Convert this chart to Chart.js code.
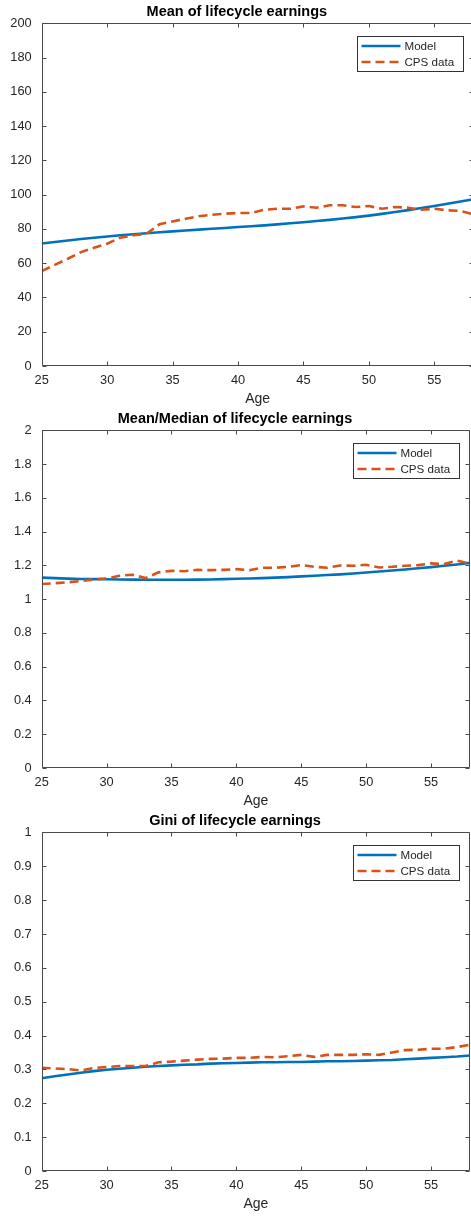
<!DOCTYPE html>
<html>
<head>
<meta charset="utf-8">
<script src="https://cdn.jsdelivr.net/npm/chart.js@4.4.0/dist/chart.umd.min.js"></script>
<style>
  html, body { margin: 0; padding: 0; background: #fff; overflow: hidden; }
  body { width: 471px; height: 1216px; position: relative; }
  canvas { position: absolute; left: 0; }
</style>
</head>
<body>
<canvas id="meanChart" width="475" height="408" style="top:0px"></canvas>
<canvas id="ratioChart" width="471" height="403" style="top:407px"></canvas>
<canvas id="giniChart" width="471" height="404" style="top:809px"></canvas>
<script>
// ages on the x axis
var ages = [25, 26, 27, 28, 29, 30, 31, 32, 33, 34, 35, 36, 37, 38, 39, 40, 41,
            42, 43, 44, 45, 46, 47, 48, 49, 50, 51, 52, 53, 54, 55, 56, 57, 58];
var ageTicks = [25, 30, 35, 40, 45, 50, 55];

// mean of lifecycle earnings
var meanModel = [71.5, 72.4, 73.3, 74.1, 74.9, 75.6, 76.3, 76.9, 77.5, 78.1, 78.6, 79.1,
                 79.6, 80.1, 80.6, 81.1, 81.6, 82.1, 82.7, 83.3, 83.9, 84.6, 85.3, 86.1,
                 86.9, 87.8, 88.8, 89.9, 91.0, 92.2, 93.4, 94.7, 96.0, 97.4];
var meanCPS = [55.4, 59.0, 62.6, 66.5, 69.0, 71.4, 74.9, 76.3, 77.2, 82.7, 84.4, 86.0,
               87.4, 88.3, 88.9, 89.3, 89.3, 91.2, 91.8, 91.8, 93.2, 92.4, 93.8, 93.8,
               92.8, 93.4, 91.8, 92.8, 92.4, 91.2, 91.8, 90.9, 90.5, 88.5];

// mean / median
var ratioModel = [1.128, 1.125, 1.122, 1.120, 1.119, 1.118, 1.117, 1.116, 1.115, 1.115,
                  1.115, 1.115, 1.116, 1.117, 1.119, 1.121, 1.123, 1.125, 1.128, 1.131,
                  1.135, 1.139, 1.143, 1.147, 1.152, 1.158, 1.164, 1.170, 1.176, 1.183,
                  1.190, 1.198, 1.206, 1.215];
var ratioCPS = [1.090, 1.095, 1.100, 1.107, 1.117, 1.123, 1.139, 1.145, 1.125, 1.159,
                1.168, 1.166, 1.174, 1.172, 1.174, 1.178, 1.172, 1.186, 1.186, 1.192,
                1.202, 1.192, 1.186, 1.200, 1.198, 1.204, 1.188, 1.192, 1.198, 1.202,
                1.212, 1.208, 1.228, 1.212];

// gini
var giniModel = [0.274, 0.280, 0.285, 0.290, 0.295, 0.299, 0.302, 0.305, 0.308, 0.310,
                 0.312, 0.314, 0.315, 0.317, 0.318, 0.319, 0.320, 0.321, 0.321, 0.322,
                 0.322, 0.323, 0.324, 0.324, 0.325, 0.326, 0.327, 0.328, 0.330, 0.332,
                 0.334, 0.336, 0.338, 0.341];
var giniCPS = [0.305, 0.303, 0.301, 0.297, 0.304, 0.307, 0.310, 0.310, 0.310, 0.321,
               0.323, 0.326, 0.329, 0.331, 0.332, 0.334, 0.334, 0.337, 0.336, 0.339,
               0.343, 0.337, 0.343, 0.343, 0.343, 0.345, 0.343, 0.350, 0.357, 0.358,
               0.361, 0.361, 0.366, 0.373];

var FONT = "'Liberation Sans', Arial, Helvetica, sans-serif";
var TEXT = '#262626';
var BLUE = '#0072BD';
var ORANGE = '#D95319';
var DASH = [9, 5];

function pts(ys) {
    return ages.map(function (a, i) { return { x: a, y: ys[i] }; });
}

// matlab-like box with inward ticks + legend inside top right
var frame = {
    id: 'frame',
    afterDatasetsDraw: function (chart) {
        var ctx = chart.ctx, a = chart.chartArea;
        var x = chart.scales.x, y = chart.scales.y;
        var L = Math.round(a.left) + 0.5, R = Math.round(a.right) - 0.5;
        var T = Math.round(a.top) + 0.5, B = Math.round(a.bottom) - 0.5;
        ctx.save();
        ctx.strokeStyle = '#4a4a4a';
        ctx.lineWidth = 1;
        ctx.beginPath();
        ctx.rect(L, T, R - L, B - T);
        x.ticks.forEach(function (t) {
            var px = Math.round(x.getPixelForValue(t.value)) + 0.5;
            ctx.moveTo(px, B); ctx.lineTo(px, B - 4);
            ctx.moveTo(px, T); ctx.lineTo(px, T + 4);
        });
        y.ticks.forEach(function (t) {
            var py = Math.round(y.getPixelForValue(t.value)) + 0.5;
            ctx.moveTo(L, py); ctx.lineTo(L + 4, py);
            ctx.moveTo(R, py); ctx.lineTo(R - 4, py);
        });
        ctx.stroke();

        // legend
        var w = 106, h = 35;
        var bx = Math.round(a.right - 11 - w) + 0.5, by = Math.round(a.top + 13) + 0.5;
        ctx.fillStyle = '#fff';
        ctx.fillRect(bx, by, w, h);
        ctx.strokeStyle = '#333';
        ctx.strokeRect(bx, by, w, h);
        ctx.font = '11.6px ' + FONT;
        ctx.textBaseline = 'middle';
        ctx.textAlign = 'left';
        chart.data.datasets.forEach(function (ds, i) {
            var ly = by + 9.5 + i * 16;
            ctx.beginPath();
            ctx.strokeStyle = ds.borderColor;
            ctx.lineWidth = ds.borderWidth;
            ctx.setLineDash(ds.borderDash || []);
            ctx.moveTo(bx + 4, ly);
            ctx.lineTo(bx + 43, ly);
            ctx.stroke();
            ctx.setLineDash([]);
            ctx.fillStyle = TEXT;
            ctx.fillText(ds.label, bx + 47, ly + 0.5);
        });
        ctx.restore();
    }
};

function makeChart(id, title, model, cps, ymax, ystep, rightPad) {
    var ctx = document.getElementById(id).getContext('2d');
    return new Chart(ctx, {
        type: 'line',
        data: {
            datasets: [{
                label: 'Model',
                data: pts(model),
                borderColor: BLUE,
                borderWidth: 2.6,
                pointRadius: 0,
                fill: false,
                order: 1
            }, {
                label: 'CPS data',
                data: pts(cps),
                borderColor: ORANGE,
                borderWidth: 2.6,
                borderDash: DASH,
                pointRadius: 0,
                fill: false,
                order: 0
            }]
        },
        options: {
            responsive: false,
            animation: false,
            devicePixelRatio: 1,
            layout: { autoPadding: false, padding: { left: 0, right: rightPad, top: 0, bottom: 0 } },
            plugins: {
                legend: { display: false },
                tooltip: { enabled: false },
                title: {
                    display: true,
                    text: title,
                    color: '#000',
                    font: { family: FONT, size: 14.5, weight: 'bold' },
                    padding: { top: 3, bottom: 3 }
                }
            },
            scales: {
                x: {
                    type: 'linear',
                    min: 25,
                    max: 58,
                    afterBuildTicks: function (s) {
                        s.ticks = ageTicks.map(function (v) { return { value: v }; });
                    },
                    afterFit: function (s) { s.height = 42; },
                    grid: { display: false, drawTicks: false },
                    border: { display: false },
                    ticks: { color: TEXT, padding: 7, maxRotation: 0, font: { family: FONT, size: 12.8 } },
                    title: { display: true, text: 'Age', color: TEXT, padding: 0, font: { family: FONT, size: 14 } }
                },
                y: {
                    min: 0,
                    max: ymax,
                    ticks: {
                        stepSize: ystep,
                        color: TEXT,
                        padding: 10,
                        font: { family: FONT, size: 12.8 },
                        callback: function (v) { return String(+v.toFixed(2)); }
                    },
                    afterFit: function (s) { s.width = 41.7; },
                    grid: { display: false, drawTicks: false },
                    border: { display: false }
                }
            }
        },
        plugins: [frame]
    });
}

makeChart('meanChart', 'Mean of lifecycle earnings', meanModel, meanCPS, 200, 20, 1.4);
makeChart('ratioChart', 'Mean/Median of lifecycle earnings', ratioModel, ratioCPS, 2, 0.2, 1);
makeChart('giniChart', 'Gini of lifecycle earnings', giniModel, giniCPS, 1, 0.1, 1);
</script>
</body>
</html>
